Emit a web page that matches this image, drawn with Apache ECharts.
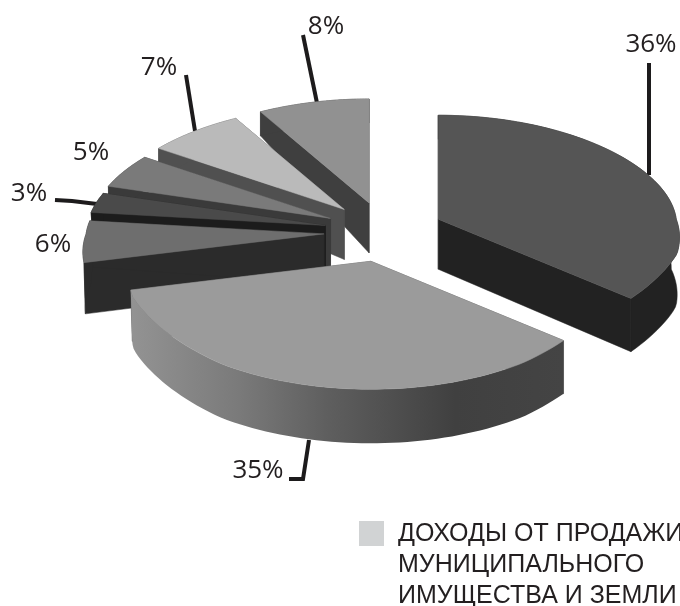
<!DOCTYPE html>
<html><head><meta charset="utf-8">
<style>html,body{margin:0;padding:0;background:#fff;overflow:hidden}#c{width:680px;height:606px}</style>
<script src="https://cdn.jsdelivr.net/npm/echarts@6/dist/echarts.min.js"></script>
</head><body><div id="c"></div>
<script>
// DATA
const shares = [36, 35, 6, 3, 5, 7, 8];
const legendLines = ['ДОХОДЫ ОТ ПРОДАЖИ', 'МУНИЦИПАЛЬНОГО', 'ИМУЩЕСТВА И ЗЕМЛИ'];
// STYLE
const topColors = ['#555555', '#9b9b9b', '#6e6e6e', '#4a4a4a', '#7a7a7a', '#bababa', '#919191'];
const wallColors = ['#222222', null, '#2b2b2b', '#1c1c1c', '#3a3a3a', '#505050', '#3f3f3f'];
const drawOrder = [6, 5, 4, 3, 2, 0, 1];
const labelPos = [[651, 45], [258, 471], [53, 245], [29, 194], [91, 153], [159, 68], [326, 27]];
const leaders = [
  [[649, 63], [649, 175]],
  [[309, 440], [303, 479], [289, 479]],
  null,
  [[55, 200], [72, 201], [97, 204]],
  null,
  [[186, 75], [195, 131]],
  [[303, 35], [317, 103]]
];
const CX = 384, CY = 232, EX = 60, EY = 30;
const rxAt = v => v >= 0 ? 238 * (1 - 0.06 * v) : 238 + 12 * Math.min(1, -v / 0.3);
const ryAt = v => v >= 0 ? 104 : 110 + 18 * Math.min(1, -v / 0.8);
const depthAt = v => v > 0 ? 50 - 26 * Math.min(1, v / 0.876) : 50 + 4 * Math.min(1, -v / 0.8);
const total = shares.reduce((a, b) => a + b, 0);
const angleOf = echarts.number.linearMap;
let acc = 0;
const spans = shares.map(s => {
  const a = angleOf(acc, [0, total], [0, Math.PI * 2]);
  acc += s;
  return [a, angleOf(acc, [0, total], [0, Math.PI * 2])];
});
function rim(apex, t) {
  const u = Math.sin(t), v = Math.cos(t);
  const inset = 5 * (1 - Math.min(1, Math.abs(v) / 0.35)) * Math.sign(u);
  const p = [apex[0] + u * rxAt(v), apex[1] - v * ryAt(v)];
  return { p, b: [p[0] - inset, p[1] + depthAt(v)] };
}
function down(p, d) { return [p[0], p[1] + d]; }
const side35 = { type: 'linear', x: 0, y: 0, x2: 1, y2: 0, colorStops: [
  { offset: 0, color: '#939393' }, { offset: 0.25, color: '#7a7a7a' }, { offset: 0.45, color: '#5f5f5f' },
  { offset: 0.75, color: '#404040' }, { offset: 1, color: '#444444' }] };

function renderSlice(params, api) {
  const i = drawOrder[params.dataIndex];
  const [a0, a1] = spans[i];
  const mid = (a0 + a1) / 2;
  const apex = [CX + EX * Math.sin(mid), CY - EY * Math.cos(mid)];
  const n = 72, arc = [];
  for (let k = 0; k <= n; k++) arc.push(rim(apex, a0 + (a1 - a0) * k / n));
  const first = arc[0], last = arc[n];
  const apexDown = down(apex, 50);
  const wall = wallColors[i] || '#555555';
  const kids = [];
  const poly = (points, fill) => kids.push({ type: 'polygon', shape: { points }, style: { fill, stroke: fill === side35 ? null : fill, lineWidth: 0.5 } });
  poly([apex, first.p, first.b, apexDown], wall);
  poly([apex, last.p, last.b, apexDown], wall);
  const outer = arc.map(a => a.p).concat(arc.slice().reverse().map(a => a.b));
  poly(outer, wallColors[i] ? wall : side35);
  poly([apex].concat(arc.map(a => a.p)), topColors[i]);
  return { type: 'group', children: kids };
}
function renderLabels(params, api) {
  const i = params.dataIndex, kids = [];
  if (leaders[i]) kids.push({ type: 'polyline', shape: { points: leaders[i] }, style: { fill: null, stroke: '#1d1b1c', lineWidth: 4 } });
  kids.push({ type: 'text', style: { x: labelPos[i][0], y: labelPos[i][1], text: api.value(0) + '%', fill: '#231f20',
    font: '26px "Open Sans", sans-serif', textAlign: 'center', textVerticalAlign: 'middle' } });
  return { type: 'group', children: kids };
}
const chart = echarts.init(document.getElementById('c'), null, { renderer: 'canvas' });
chart.setOption({
  animation: false,
  backgroundColor: '#ffffff',
  series: [
    { type: 'custom', coordinateSystem: 'none', renderItem: renderSlice, silent: true, z: 2,
      data: drawOrder.map(i => [shares[i]]) },
    { type: 'custom', coordinateSystem: 'none', renderItem: renderLabels, silent: true, z: 1,
      data: shares.map(s => [s]) }
  ],
  graphic: [
    { type: 'rect', left: 359, top: 521, shape: { width: 25, height: 25 }, style: { fill: '#d1d3d4' } },
    { type: 'text', left: 398, top: 518.5, style: { text: legendLines.join('\n'), fill: '#231f20',
      font: '25px "Liberation Sans", Arial, sans-serif', lineHeight: 31 } }
  ]
});
</script></body></html>
